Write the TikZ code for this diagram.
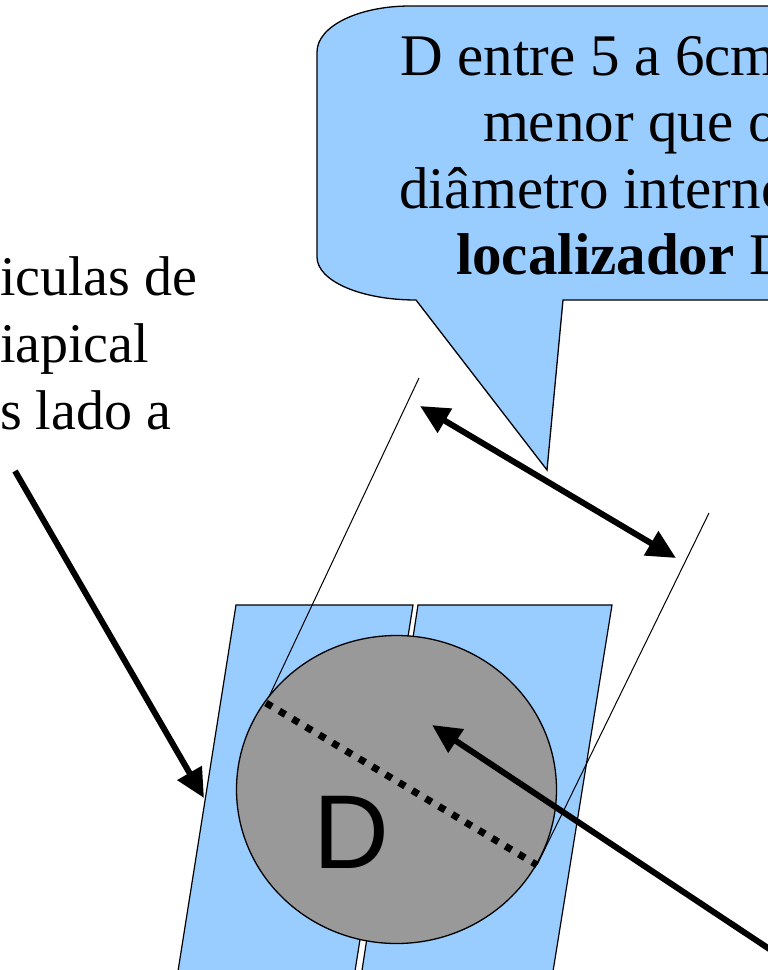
\documentclass[tikz,border=0pt]{standalone}
\usepackage{fontspec}
\setmainfont{Liberation Serif}
\newfontfamily\arialf{Liberation Sans}
\usetikzlibrary{arrows.meta}
\definecolor{filmblue}{HTML}{99CCFF}
\definecolor{discgray}{HTML}{999999}
\tikzset{
  txt/.style={anchor=base west, inner sep=0pt, outer sep=0pt, font=\fontsize{59}{66}\selectfont},
  lefttxt/.style={anchor=base west, inner sep=0pt, outer sep=0pt, font=\fontsize{56}{66}\selectfont},
  film/.style={draw=black, fill=filmblue, line width=1.2pt, line join=miter},
  thinline/.style={draw=black, line width=1pt},
  bigarrow/.style={draw=black, line width=6pt, -{Triangle[length=29pt,width=27pt]}},
  dblarrow/.style={draw=black, line width=6pt, {Triangle[length=29pt,width=27pt]}-{Triangle[length=29pt,width=27pt]}},
  dotline/.style={draw=black, line width=7pt, dash pattern=on 7pt off 8.5pt}
}
\begin{document}
\begin{tikzpicture}[x=1pt,y=-1pt]
\useasboundingbox (0,0) rectangle (768,970);
% callout
\draw[film, line width=1.3pt] (790,6) -- (410,6) .. controls (359,6) and (317,26) .. (317,52)
  -- (317,257) .. controls (317,281) and (361,300) .. (416,300)
  -- (547,470) -- (563,300) -- (790,300);
\node[txt] (c1) at (400,75) {D entre 5 a 6cm};
\node[txt] (c2) at (483,141) {menor que o};
\node[txt] (c3) at (399,208) {diâmetro interno};
\node[txt] (c4) at (456,274) {\textbf{localizador} D};
% left text
\node[lefttxt] (l1) at (0,295) {iculas de};
\node[lefttxt] (l2) at (0,362) {iapical};
\node[lefttxt] (l3) at (0,429) {s lado a};
% films
\draw[film] (236,605) -- (413,605) -- (352,990) -- (175,990) -- cycle;
\draw[film] (418,605) -- (612,605) -- (550,990) -- (359,990) -- cycle;
% extension lines
\coordinate (e1a) at (419,378);
\coordinate (e1b) at (266,703);
\coordinate (e2a) at (709,513);
\coordinate (e2b) at (537,865);
\draw[thinline] (e1a) -- (e1b);
\draw[thinline] (e2a) -- (e2b);
% disc
\draw[fill=discgray, line width=1.3pt] (396.5,789.5) ellipse [x radius=160, y radius=154];
\node[anchor=base west, inner sep=0pt, font=\arialf\fontsize{105}{110}\selectfont] (D) at (313,868) {D};
% dotted diameter
\draw[dotline] (e1b) -- (e2b);
% arrows
\coordinate (da) at (420,406);
\coordinate (db) at (676,558);
\draw[dblarrow] (da) -- (db);
\coordinate (la) at (15,471);
\coordinate (lb) at (204,798);
\draw[bigarrow] (la) -- (lb);
\coordinate (ra) at (795,966);
\coordinate (rb) at (432,725);
\draw[bigarrow] (ra) -- (rb);
\end{tikzpicture}
\end{document}
